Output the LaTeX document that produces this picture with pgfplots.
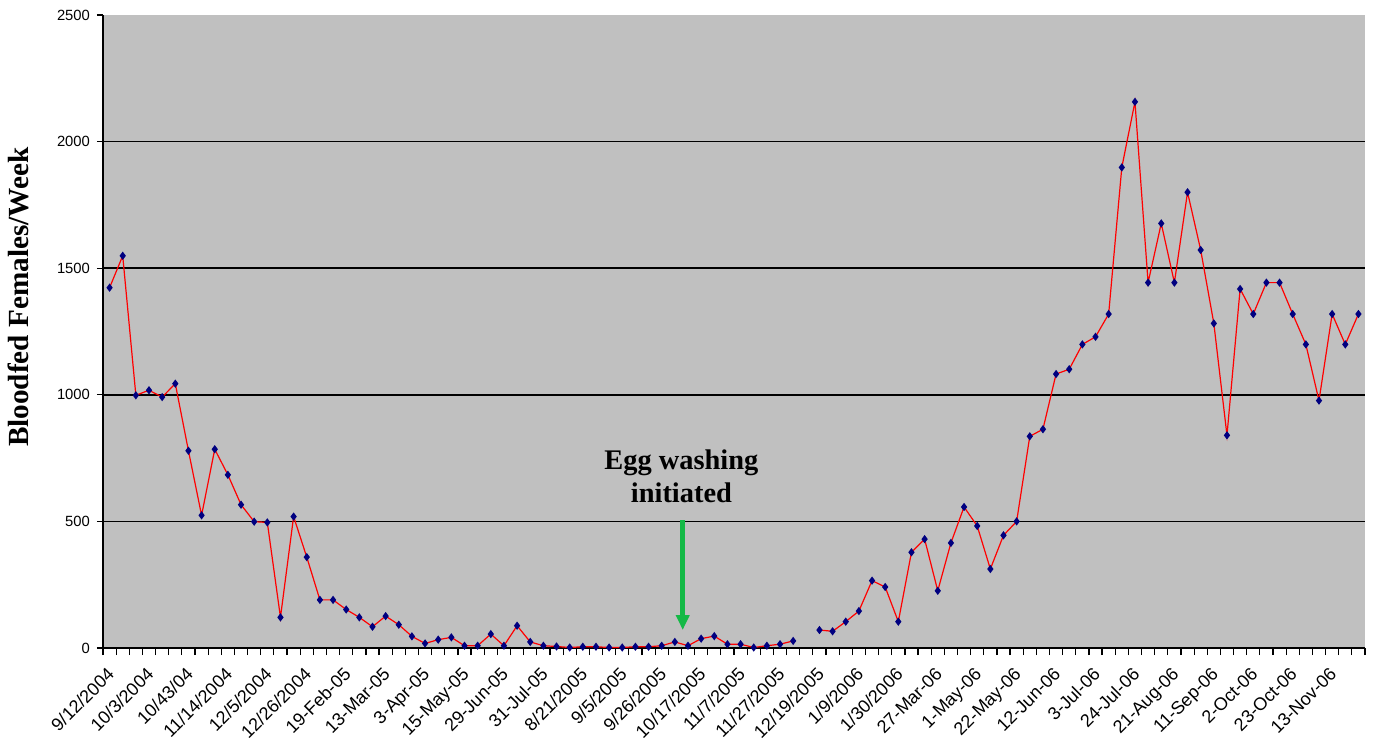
\documentclass[border=0pt]{standalone}
\usepackage{pgfplots}
\pgfplotsset{compat=1.18}
\usepackage{fontspec}
\setmainfont{Liberation Sans}
\newfontfamily\tnr{Liberation Serif}
\usetikzlibrary{arrows.meta}
\definecolor{plotgray}{RGB}{192,192,192}
\definecolor{navy}{RGB}{0,0,128}
\definecolor{arrowgreen}{RGB}{20,185,70}
\begin{document}
\begin{tikzpicture}
\begin{axis}[
  scale only axis, width=631pt, height=316.5pt,
  xmin=-0.5, xmax=95.5, ymin=0, ymax=2500,
  axis background/.style={fill=plotgray},
  axis x line*=bottom, axis y line*=left,
  axis line style={black, line width=0.8pt},
  tick align=outside,
  xtick={0,3,...,93},
  xticklabels={9/12/2004,10/3/2004,10/43/04,11/14/2004,12/5/2004,12/26/2004,19-Feb-05,13-Mar-05,3-Apr-05,15-May-05,29-Jun-05,31-Jul-05,8/21/2005,9/5/2005,9/26/2005,10/17/2005,11/7/2005,11/27/2005,12/19/2005,1/9/2006,1/30/2006,27-Mar-06,1-May-06,22-May-06,12-Jun-06,3-Jul-06,24-Jul-06,21-Aug-06,11-Sep-06,2-Oct-06,23-Oct-06,13-Nov-06},
  major x tick style={draw=none},
  minor xtick={-0.5,0.5,...,95.5},
  minor tick length=3.5pt,
  minor x tick style={black, line width=0.6pt},
  xticklabel style={rotate=45, anchor=north east, font=\fontsize{9}{10}\selectfont, inner sep=0.5pt, yshift=-2.5pt, xshift=-5pt},
  ytick={0,500,...,2000},
  extra y ticks={2500},
  extra y tick style={grid=none},
  major tick length=3pt,
  y tick style={black, line width=0.6pt},
  yticklabel style={font=\fontsize{7.4}{8}\selectfont},
  /pgf/number format/assume math mode=true,
  scaled y ticks=false,
  yticklabel={\pgfmathprintnumber[fixed,1000 sep={}]{\tick}},
  ymajorgrids,
  major grid style={black, line width=0.85pt},
  ylabel={Bloodfed Females/Week},
  ylabel style={font=\tnr\bfseries\fontsize{14.6}{16}\selectfont, at={(axis description cs:-0.0674,0.554)}, anchor=center},
  unbounded coords=jump,
  clip=false,
]
\addplot[red, line width=0.6pt, mark=diamond*, mark size=1.6pt, mark options={fill=navy, draw=navy}] table[x=x, y=y] {
x y
0 1423
1 1549
2 998
3 1018
4 991
5 1044
6 779
7 524
8 785
9 684
10 566
11 499
12 496
13 121
14 519
15 359
16 190
17 190
18 152
19 121
20 84
21 126
22 92
23 46
24 18
25 33
26 42
27 9
28 9
29 55
30 9
31 88
32 24
33 9
34 6
35 2
36 5
37 5
38 2
39 2
40 5
41 5
42 9
43 24
44 9
45 37
46 47
47 15
48 15
49 2
50 9
51 15
52 28
53 nan
54 71
55 66
56 104
57 146
58 266
59 241
60 104
61 378
62 430
63 226
64 415
65 557
66 482
67 312
68 445
69 500
70 836
71 864
72 1082
73 1101
74 1199
75 1229
76 1319
77 1898
78 2157
79 1443
80 1677
81 1443
82 1800
83 1572
84 1282
85 840
86 1418
87 1319
88 1443
89 1443
90 1319
91 1199
92 977
93 1319
94 1199
95 1319
};
\node[font=\tnr\bfseries\fontsize{14.2}{16.5}\selectfont, align=center] at (axis cs:43.5,679) {Egg washing\\initiated};
\draw[-{Triangle[width=6.5pt,length=7.5pt]}, line width=2.5pt, arrowgreen] (axis cs:43.6,505) -- (axis cs:43.6,71);
\end{axis}
\pgfresetboundingbox
\path[use as bounding box] (-51.5pt,-46pt) rectangle (636pt,324pt);
\end{tikzpicture}
\end{document}
